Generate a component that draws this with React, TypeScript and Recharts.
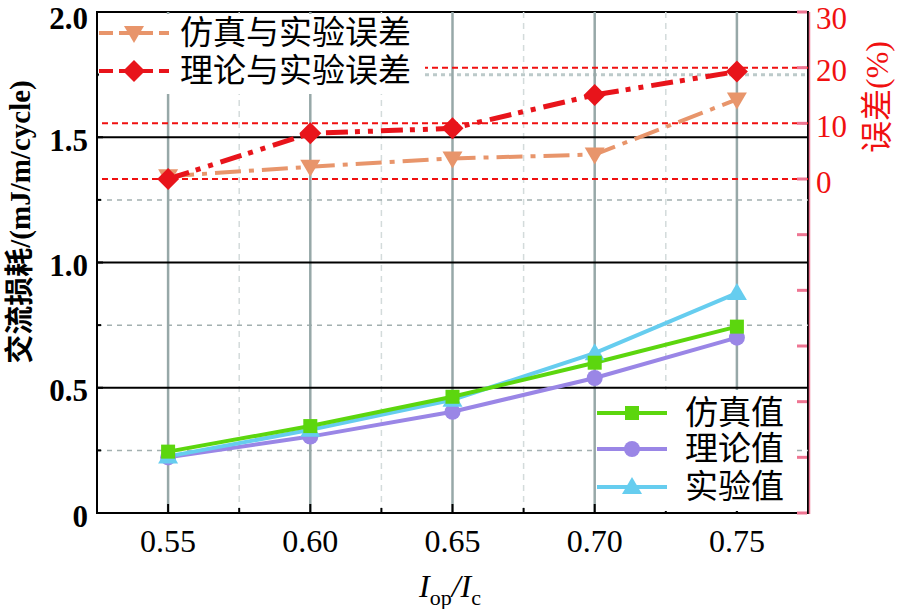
import React from "react";
import {
  ComposedChart,
  Line,
  XAxis,
  YAxis,
  ReferenceLine,
  ReferenceArea,
} from "recharts";

// I_op / I_c
const ratio = [0.55, 0.6, 0.65, 0.7, 0.75];

// AC loss, mJ/m/cycle
const simLoss = [0.245, 0.347, 0.464, 0.6, 0.744];
const theoryLoss = [0.222, 0.305, 0.404, 0.539, 0.7];
const expLoss = [0.226, 0.332, 0.452, 0.638, 0.878];

// error vs experiment, %
const simErr = [0.5, 2.2, 3.7, 4.4, 14.3];
const theoryErr = [0, 8.2, 9.1, 15.1, 19.3];

const xMajor = [0.55, 0.6, 0.65, 0.7, 0.75];
const xMinor = [0.575, 0.625, 0.675, 0.725];
const lossTicks = [0, 0.25, 0.5, 0.75, 1, 1.25, 1.5, 1.75, 2];
const lossMajor = [0, 0.5, 1, 1.5, 2];
const lossSolid = [0.5, 1, 1.5];
const lossDashed = [0.25, 0.75, 1.25];
const errTicks = [-60, -50, -40, -30, -20, -10, 0, 10, 20, 30];
const errLabeled = [0, 10, 20, 30];
const errRefs = [0, 10, 20];

const GREEN = "#5cd60e";
const PURPLE = "#9a86e6";
const CYAN = "#66cdef";
const ORANGE = "#e8956b";
const RED = "#e8141b";
const PINK = "#ee7592";

const SERIF = "'Liberation Serif', 'Times New Roman', serif";
const CJK = "'Liberation Serif', 'Noto Sans CJK SC', serif";

const data = ratio.map((r, i) => ({
  ratio: r,
  sim: simLoss[i],
  theory: theoryLoss[i],
  exp: expLoss[i],
  simErr: simErr[i],
  theoryErr: theoryErr[i],
}));

// markers
const square = (cx: number, cy: number, c: string) => (
  <rect x={cx - 7} y={cy - 7} width={14} height={14} fill={c} />
);
const circle = (cx: number, cy: number, c: string) => (
  <circle cx={cx} cy={cy} r={8} fill={c} />
);
const triUp = (cx: number, cy: number, c: string) => (
  <path d={`M${cx},${cy - 10} L${cx + 10},${cy + 7} L${cx - 10},${cy + 7} Z`} fill={c} />
);
const triDown = (cx: number, cy: number, c: string) => (
  <path d={`M${cx},${cy + 10} L${cx + 10},${cy - 7} L${cx - 10},${cy - 7} Z`} fill={c} />
);
const diamond = (cx: number, cy: number, c: string) => (
  <path d={`M${cx},${cy - 11} L${cx + 11},${cy} L${cx},${cy + 11} L${cx - 11},${cy} Z`} fill={c} />
);

const dotOf =
  (shape: (cx: number, cy: number, c: string) => React.ReactElement, c: string) =>
  (p: any) =>
    <g key={p.key ?? `${p.cx}-${p.cy}`}>{shape(p.cx, p.cy, c)}</g>;

// keep the top labels inside the picture
const labelY = (y: number) => Math.max(y + 3, 18);

const LeftTick = (p: any) => {
  const v = p.payload.value;
  const major = lossMajor.includes(v);
  const ax = p.x + 9;
  return (
    <g>
      <line x1={ax} x2={ax + (major ? 6 : 4)} y1={p.y} y2={p.y} stroke="#000" strokeWidth={2} />
      {major && (
        <text x={p.x} y={labelY(p.y)} textAnchor="end" dominantBaseline="central" fontSize={31} fontWeight="bold" fontFamily={SERIF} fill="#000">
          {v === 0 ? "0" : v.toFixed(1)}
        </text>
      )}
    </g>
  );
};

const RightTick = (p: any) => {
  const v = p.payload.value;
  const ax = p.x - 8;
  return (
    <g>
      <line x1={ax - 11} x2={ax - 1} y1={p.y} y2={p.y} stroke={PINK} strokeWidth={3} />
      {errLabeled.includes(v) && (
        <text x={p.x} y={labelY(p.y)} textAnchor="start" dominantBaseline="central" fontSize={31} fontFamily={SERIF} fill="#f01010">
          {v}
        </text>
      )}
    </g>
  );
};

const BottomTick = (p: any) => {
  const v = p.payload.value;
  const major = xMajor.includes(v);
  return (
    <g>
      <line x1={p.x} x2={p.x} y1={p.y} y2={p.y - (major ? 9 : 5)} stroke="#000" strokeWidth={2} />
      {major && (
        <text x={p.x} y={p.y + 28} textAnchor="middle" dominantBaseline="central" fontSize={32} fontFamily={SERIF} fill="#000">
          {v.toFixed(2)}
        </text>
      )}
    </g>
  );
};

const Sample = ({ color, dash, marker }: { color: string; dash?: string; marker: (cx: number, cy: number, c: string) => React.ReactElement }) => (
  <svg width={72} height={26} style={{ display: "block" }}>
    <line x1={1} x2={71} y1={13} y2={13} stroke={color} strokeWidth={4} strokeDasharray={dash} />
    {marker(36, 13, color)}
  </svg>
);

const row = (top: number, left: number): React.CSSProperties => ({
  position: "absolute",
  top,
  left,
  display: "flex",
  alignItems: "center",
  fontFamily: CJK,
  fontSize: 33,
  lineHeight: "36px",
  color: "#000",
  whiteSpace: "nowrap",
});

export default function App() {
  return (
    <div style={{ position: "absolute", left: 0, top: 0, width: 898, height: 609, background: "#fff" }}>
      <ComposedChart width={898} height={609} data={data} margin={{ top: 12, right: 0, bottom: 0, left: 0 }}>
        <XAxis
          dataKey="ratio"
          type="number"
          domain={[0.525, 0.775]}
          allowDataOverflow
          ticks={[...xMajor, ...xMinor]}
          tickSize={0}
          tickMargin={0}
          tick={<BottomTick />}
          axisLine={{ stroke: "#000", strokeWidth: 2 }}
          tickLine={false}
          height={96}
          interval={0}
        />
        <YAxis
          yAxisId="loss"
          orientation="left"
          domain={[0, 2]}
          ticks={lossTicks}
          width={97}
          tickSize={0}
          tickMargin={9}
          tick={<LeftTick />}
          axisLine={{ stroke: "#000", strokeWidth: 2 }}
          tickLine={false}
          interval={0}
        />
        <YAxis
          yAxisId="err"
          orientation="right"
          domain={[-60, 30]}
          ticks={errTicks}
          width={90}
          tickSize={0}
          tickMargin={8}
          tick={<RightTick />}
          axisLine={false}
          tickLine={false}
          interval={0}
        />

        {xMinor.map((v) => (
          <ReferenceLine key={`xm${v}`} x={v} yAxisId="loss" stroke="#d3dbdb" strokeWidth={1.5} strokeDasharray="6 5" />
        ))}
        {lossDashed.map((v) => (
          <ReferenceLine key={`ld${v}`} y={v} yAxisId="loss" stroke="#a3b0b0" strokeWidth={1.5} strokeDasharray="5 5" />
        ))}
        <ReferenceLine y={1.75} yAxisId="loss" stroke="#bccaca" strokeWidth={3} strokeDasharray="4 4" />
        {xMajor.map((v) => (
          <ReferenceLine key={`xM${v}`} x={v} yAxisId="loss" stroke="#97a8a8" strokeWidth={2.5} />
        ))}
        {lossSolid.map((v) => (
          <ReferenceLine key={`ls${v}`} y={v} yAxisId="loss" stroke="#000" strokeWidth={2} />
        ))}
        {errRefs.map((v) => (
          <ReferenceLine key={`er${v}`} y={v} yAxisId="err" stroke="#f01010" strokeWidth={2} strokeDasharray="6 4" />
        ))}
        <ReferenceArea x1={0.525} x2={0.775} y1={0} y2={2} yAxisId="loss" fill="none" fillOpacity={0} stroke="#000" strokeWidth={2} />

        <Line yAxisId="err" dataKey="simErr" name="仿真与实验误差" stroke={ORANGE} strokeWidth={4} strokeDasharray="26 8 5 8" dot={dotOf(triDown, ORANGE)} isAnimationActive={false} />
        <Line yAxisId="err" dataKey="theoryErr" name="理论与实验误差" stroke={RED} strokeWidth={5} strokeDasharray="22 7 5 8 5 8" dot={dotOf(diamond, RED)} isAnimationActive={false} />
        <Line yAxisId="loss" dataKey="theory" name="理论值" stroke={PURPLE} strokeWidth={4} dot={dotOf(circle, PURPLE)} isAnimationActive={false} />
        <Line yAxisId="loss" dataKey="exp" name="实验值" stroke={CYAN} strokeWidth={4} dot={dotOf(triUp, CYAN)} isAnimationActive={false} />
        <Line yAxisId="loss" dataKey="sim" name="仿真值" stroke={GREEN} strokeWidth={4} dot={dotOf(square, GREEN)} isAnimationActive={false} />
      </ComposedChart>

      {/* axis titles and the thin pink right axis line */}
      <svg width={898} height={609} style={{ position: "absolute", left: 0, top: 0, pointerEvents: "none" }}>
        <line x1={809.5} x2={809.5} y1={12} y2={514} stroke={PINK} strokeWidth={1.5} />
        <text x={20} y={222} transform="rotate(-90 20 222)" textAnchor="middle" dominantBaseline="central" fontSize={29} fontWeight="bold" fontFamily={CJK} fill="#000">
          交流损耗/(mJ/m/cycle)
        </text>
        <text x={877} y={97} transform="rotate(-90 877 97)" textAnchor="middle" dominantBaseline="central" fontSize={32} fontFamily={CJK} fill="#f01010">
          误差(%)
        </text>
        <text x={450} y={597} textAnchor="middle" fontSize={32} fontFamily={SERIF} fill="#000">
          <tspan fontStyle="italic">I</tspan>
          <tspan fontSize={22} dy={8}>op</tspan>
          <tspan dy={-8} fontStyle="italic">/I</tspan>
          <tspan fontSize={22} dy={8}>c</tspan>
        </text>
      </svg>

      {/* legend: errors */}
      <div style={{ position: "absolute", left: 99, top: 14, width: 326, height: 80, background: "#fff" }} />
      <div style={row(15, 98)}>
        <Sample color={ORANGE} dash="14 6" marker={triDown} />
        <span style={{ marginLeft: 10 }}>仿真与实验误差</span>
      </div>
      <div style={row(53, 98)}>
        <Sample color={RED} dash="14 6" marker={diamond} />
        <span style={{ marginLeft: 10 }}>理论与实验误差</span>
      </div>

      {/* legend: loss */}
      <div style={{ position: "absolute", left: 597, top: 390, width: 195, height: 121, background: "#fff" }} />
      <div style={row(395, 596)}>
        <Sample color={GREEN} marker={square} />
        <span style={{ marginLeft: 17 }}>仿真值</span>
      </div>
      <div style={row(431, 596)}>
        <Sample color={PURPLE} marker={circle} />
        <span style={{ marginLeft: 17 }}>理论值</span>
      </div>
      <div style={row(469, 596)}>
        <Sample color={CYAN} marker={triUp} />
        <span style={{ marginLeft: 17 }}>实验值</span>
      </div>
    </div>
  );
}
